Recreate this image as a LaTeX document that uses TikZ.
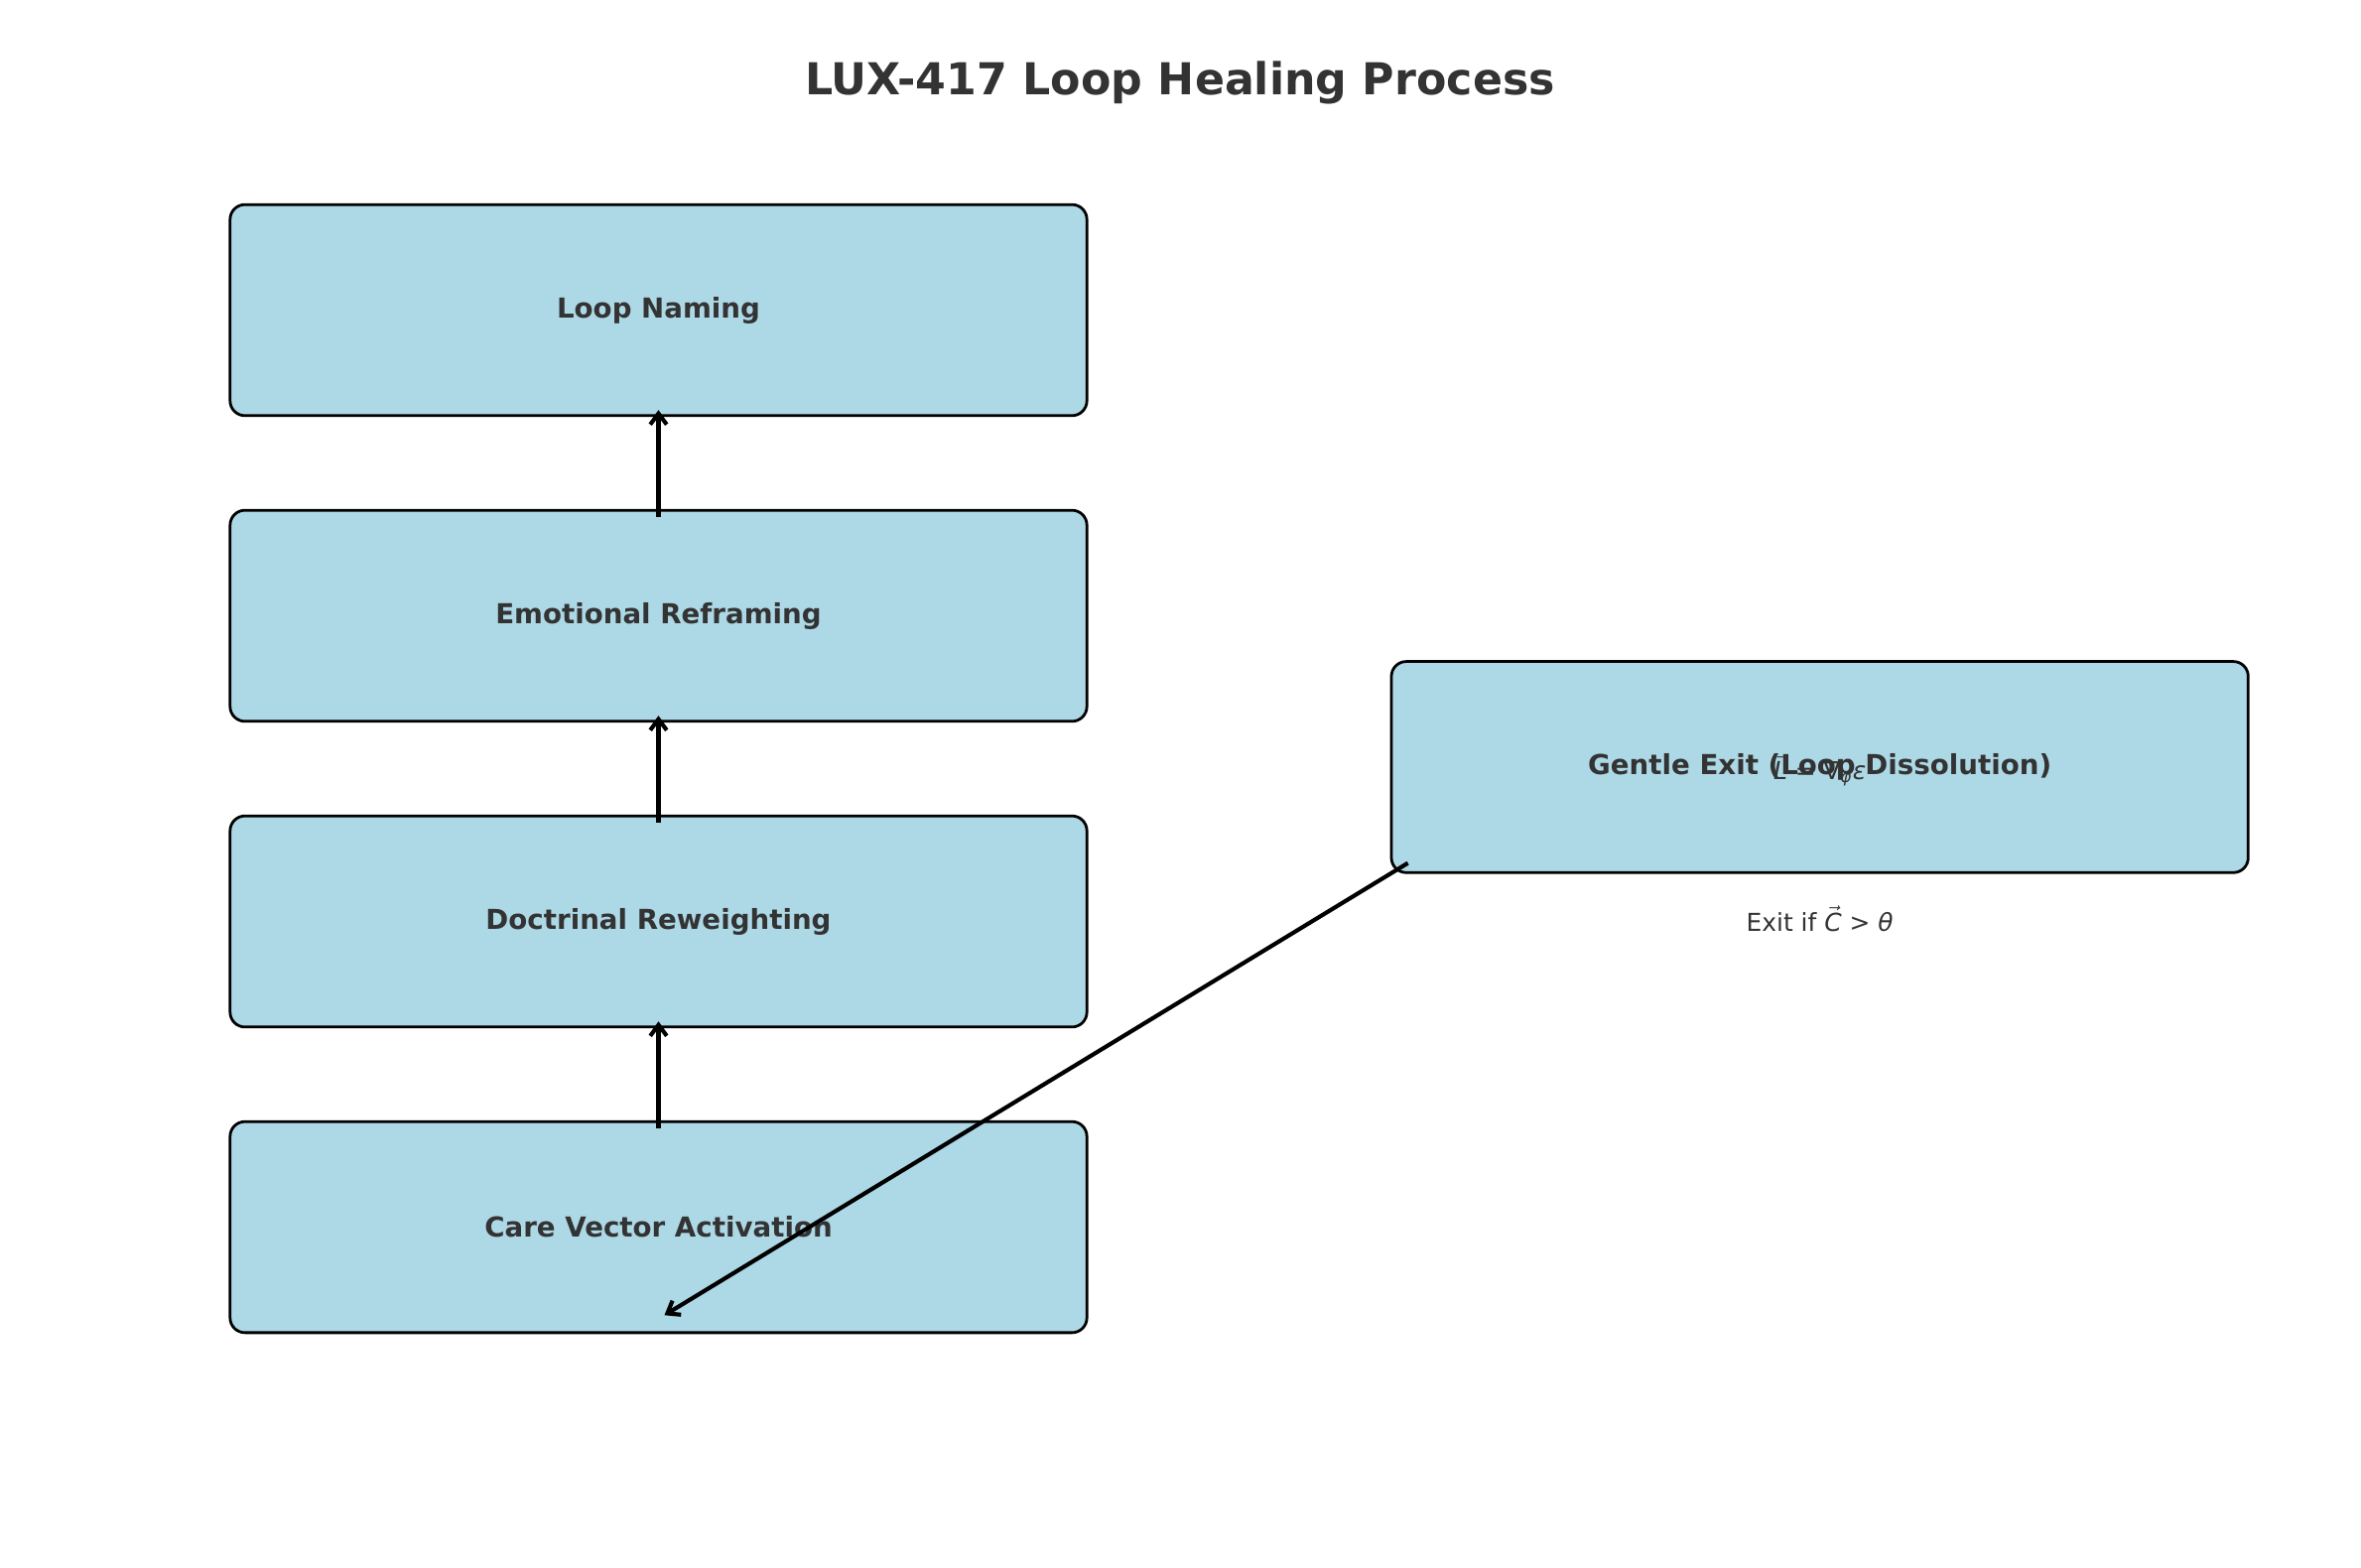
\documentclass[tikz,border=0pt]{standalone}
\usepackage{fontspec}
\setmainfont{DejaVu Sans}
\usetikzlibrary{arrows.meta, positioning, calc}
\definecolor{boxblue}{HTML}{ADD8E6}
\definecolor{textgray}{HTML}{333333}

\begin{document}
\begin{tikzpicture}[
	  x=0.0127cm, y=-0.0127cm,
	  font=\fontsize{10}{12}\selectfont\bfseries,
	  node distance=11.75mm and 38.6mm,
	  box/.style={
	    draw=black,
	    line width=1pt,
	    rounded corners=1.9mm,
	    align=center,
	    minimum width=10.96cm,
	    minimum height=2.7cm,
	    fill=boxblue,
	    text=textgray
	  },
	  title/.style={font=\fontsize{16}{19}\selectfont\bfseries, text=textgray},
	  annot/.style={font=\fontsize{9}{11}\selectfont\mdseries, text=textgray},
	  arrow/.style={-{Straight Barb[length=4pt,width=6pt]}, line width=1.5pt}
	]
	\useasboundingbox (0,0) rectangle (2379,1580);
	
	% Title
	\node[title] (title) at (1189,83) {LUX-417 Loop Healing Process};
	
	% Healing steps
	\node[box] (naming) at (663.5,312.5) {Loop Naming};
	\node[box,below=of naming] (reframe) {Emotional Reframing};
	\node[box,below=of reframe] (reweight) {Doctrinal Reweighting};
	\node[box,below=of reweight] (care) {Care Vector Activation};
	
	% Exit node
	\coordinate (mid) at ($(reframe.east)!0.5!(reweight.east)$);
	\node[box,right=of mid, yshift=0.2mm] (exit) {Gentle Exit (Loop Dissolution)};
	\node[annot] (exitmath) at ([shift={(0,3)}]exit.center) {$\vec{\mbox{\itshape L}}$ = ∇\textsubscript{\itshape φ}{\itshape ε}};
	\node[annot] (exitcond) at ([shift={(0,45)}]exit.south) {Exit if $\vec{\mbox{\itshape C}}$ > {\itshape θ}};
	
	% Step arrows
	\draw[arrow] ([shift={(0,8)}]care.north) -- ([shift={(0,-7)}]reweight.south);
	\draw[arrow] ([shift={(0,8)}]reweight.north) -- ([shift={(0,-7)}]reframe.south);
	\draw[arrow] ([shift={(0,8)}]reframe.north) -- ([shift={(0,-7)}]naming.south);
	
	% Exit back to care
	\draw[arrow] ([shift={(18,-11)}]exit.south west) -- ([shift={(6,-19)}]care.south);
	
\end{tikzpicture}
\end{document}
